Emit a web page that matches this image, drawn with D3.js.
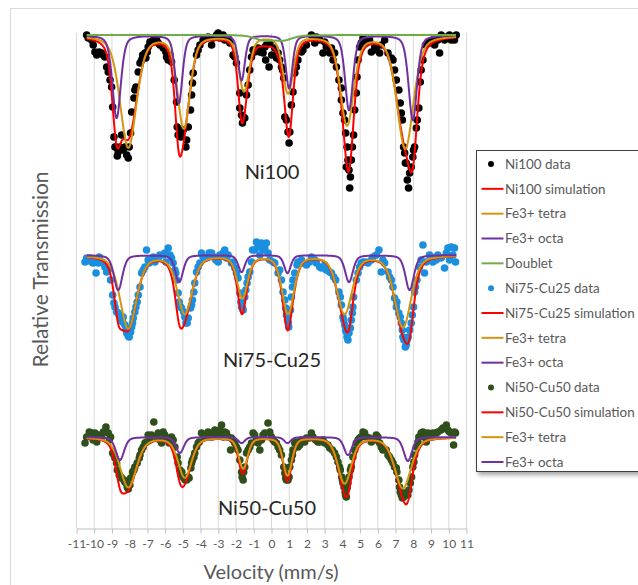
<!DOCTYPE html>
<html>
<head>
<meta charset="utf-8">
<script src="https://cdn.jsdelivr.net/npm/d3@7"></script>
<style>
  body { margin: 0; background: #fff; }
  svg { display: block; font-family: Lato, "Open Sans", sans-serif; }
</style>
</head>
<body>
<script>
const width = 638, height = 585;

// measured spectra: [velocity mm/s, relative transmission]
const ni100Data = [[-10.40,1.000],[-10.12,0.995],[-9.93,0.983],[-9.83,0.980],[-9.55,0.982],[-9.37,0.978],[-9.27,0.968],[-9.08,0.955],[-8.99,0.948],[-8.93,0.928],[-8.86,0.898],[-8.75,0.888],[-8.67,0.879],[-8.52,0.888],[-8.43,0.900],[-8.24,0.888],[-8.14,0.880],[-8.05,0.877],[-7.92,0.902],[-7.86,0.923],[-7.73,0.937],[-7.62,0.948],[-7.49,0.963],[-7.39,0.972],[-7.24,0.980],[-7.06,0.977],[-6.98,0.983],[-6.83,0.993],[-6.64,0.995],[-6.36,0.992],[-6.08,0.987],[-5.93,0.983],[-5.80,0.975],[-5.61,0.973],[-5.46,0.955],[-5.33,0.933],[-5.24,0.900],[-5.10,0.898],[-4.95,0.905],[-4.80,0.888],[-4.67,0.908],[-4.54,0.925],[-4.48,0.940],[-4.39,0.962],[-4.20,0.980],[-4.01,0.990],[-3.83,0.995],[-3.55,0.998],[-3.35,0.990],[-3.07,1.000],[-2.89,0.997],[-2.61,0.995],[-2.32,0.992],[-2.14,0.980],[-1.95,0.972],[-1.76,0.942],[-1.66,0.920],[-1.61,0.912],[-1.48,0.917],[-1.38,0.940],[-1.29,0.950],[-1.10,0.978],[-0.92,0.983],[-0.63,0.983],[-0.45,0.982],[-0.30,0.975],[-0.11,0.968],[0.04,0.980],[0.21,0.987],[0.40,0.982],[0.49,0.975],[0.65,0.965],[0.72,0.957],[0.78,0.918],[0.87,0.915],[0.96,0.903],[1.02,0.892],[1.15,0.930],[1.24,0.943],[1.34,0.962],[1.52,0.975],[1.72,0.983],[2.00,0.990],[2.28,1.000],[2.47,0.992],[2.75,0.995],[2.93,0.982],[3.12,0.988],[3.31,0.982],[3.50,0.975],[3.69,0.968],[3.83,0.955],[3.97,0.947],[4.06,0.922],[4.21,0.902],[4.29,0.888],[4.34,0.875],[4.40,0.865],[4.44,0.847],[4.53,0.875],[4.66,0.900],[4.72,0.925],[4.85,0.958],[5.00,0.988],[5.19,0.997],[5.38,0.992],[5.66,0.983],[5.85,0.988],[6.13,0.982],[6.41,0.995],[6.60,0.982],[6.79,0.977],[6.97,0.965],[7.07,0.955],[7.21,0.945],[7.29,0.932],[7.41,0.915],[7.48,0.888],[7.58,0.872],[7.69,0.855],[7.76,0.847],[7.91,0.868],[8.00,0.878],[8.10,0.888],[8.20,0.907],[8.34,0.927],[8.42,0.953],[8.57,0.975],[8.72,0.990],[8.94,0.992],[9.13,0.995],[9.51,0.982],[9.60,1.000],[9.89,0.998],[10.17,0.995],[10.45,1.000],
  [-10.31,0.997],[-10.03,0.990],[-9.69,0.983],[-9.46,0.980],[-9.18,0.963],[-8.80,0.888],[-8.62,0.883],[-8.34,0.885],[-8.00,0.888],[-7.68,0.945],[-7.30,0.975],[-7.11,0.982],[-6.93,0.988],[-6.45,0.995],[-6.27,0.990],[-5.89,0.978],[-5.70,0.980],[-5.29,0.908],[-5.04,0.903],[-4.76,0.895],[-4.43,0.952],[-4.11,0.985],[-3.73,0.997],[-3.26,0.997],[-2.98,1.002],[-2.70,1.000],[-2.42,0.997],[-2.04,0.978],[-1.76,0.927],[-1.57,0.918],[-1.20,0.965],[-1.01,0.985],[-0.73,0.987],[-0.26,0.990],[-0.35,0.988],[-0.06,0.992],[0.31,0.977],[0.59,0.968],[1.06,0.903],[1.43,0.968],[1.80,0.985],[2.56,0.998],[3.03,0.993],[3.41,0.987],[3.59,0.982],[3.97,0.935],[4.15,0.915],[4.25,0.868],[4.48,0.858],[4.59,0.888],[4.81,0.942],[4.91,0.975],[5.09,0.992],[5.56,0.995],[5.94,0.985],[6.22,0.990],[6.88,0.975],[7.35,0.922],[7.54,0.882],[7.63,0.872],[7.82,0.862],[8.04,0.885],[8.25,0.915],[8.47,0.965],[8.85,0.993],[9.23,0.990],[9.41,0.995],[9.79,0.995],[10.07,1.000],[10.35,0.995]];

const ni75Data = [[-10.49,0.993],[-10.21,0.997],[-10.03,0.992],[-9.87,0.982],[-9.69,0.998],[-9.55,0.993],[-9.37,0.988],[-9.18,0.985],[-9.05,0.975],[-8.93,0.960],[-8.86,0.952],[-8.71,0.943],[-8.56,0.940],[-8.48,0.935],[-8.34,0.938],[-8.24,0.930],[-8.14,0.922],[-8.05,0.919],[-7.92,0.923],[-7.86,0.928],[-7.77,0.937],[-7.62,0.948],[-7.49,0.960],[-7.39,0.968],[-7.30,0.982],[-7.11,0.988],[-7.02,1.005],[-6.87,0.992],[-6.64,0.998],[-6.36,0.997],[-6.08,1.000],[-5.93,0.993],[-5.80,1.007],[-5.70,1.000],[-5.52,0.992],[-5.42,0.985],[-5.33,0.975],[-5.24,0.962],[-5.18,0.953],[-5.05,0.947],[-4.92,0.943],[-4.80,0.932],[-4.67,0.937],[-4.54,0.947],[-4.43,0.955],[-4.30,0.972],[-4.20,0.983],[-4.01,0.992],[-3.92,1.002],[-3.64,0.997],[-3.35,1.002],[-3.11,0.995],[-2.89,1.000],[-2.61,1.005],[-2.42,1.000],[-2.23,0.992],[-2.04,0.987],[-1.86,0.977],[-1.76,0.962],[-1.66,0.948],[-1.57,0.945],[-1.48,0.958],[-1.35,0.972],[-1.20,0.983],[-1.04,1.005],[-0.82,1.013],[-0.63,1.000],[-0.45,1.005],[-0.26,1.012],[-0.07,0.995],[0.21,0.992],[0.40,0.982],[0.59,0.975],[0.68,0.963],[0.83,0.947],[0.93,0.935],[1.00,0.928],[1.10,0.945],[1.21,0.968],[1.34,0.982],[1.47,0.990],[1.72,0.995],[2.00,0.990],[2.28,0.998],[2.56,0.992],[2.84,0.987],[3.12,0.985],[3.41,0.982],[3.65,0.975],[3.83,0.963],[3.97,0.950],[4.06,0.938],[4.16,0.930],[4.25,0.923],[4.34,0.915],[4.48,0.927],[4.59,0.942],[4.66,0.958],[4.81,0.975],[5.00,0.988],[5.19,0.993],[5.47,0.992],[5.75,0.998],[6.09,1.005],[6.22,0.983],[6.41,0.992],[6.60,0.983],[6.79,0.975],[6.97,0.957],[7.10,0.953],[7.21,0.942],[7.35,0.932],[7.44,0.918],[7.58,0.908],[7.67,0.915],[7.82,0.925],[7.97,0.940],[8.10,0.963],[8.23,0.975],[8.38,0.988],[8.57,1.010],[8.66,0.982],[8.94,1.000],[9.13,0.993],[9.41,1.000],[9.79,0.987],[9.98,1.007],[10.17,1.008],[10.26,1.000],[10.41,0.993],
  [-10.40,0.997],[-10.12,0.993],[-9.93,0.995],[-9.74,0.992],[-9.46,0.992],[-9.27,0.983],[-8.80,0.948],[-8.62,0.942],[-8.37,0.933],[-8.18,0.925],[-8.00,0.918],[-7.81,0.932],[-7.68,0.943],[-7.55,0.953],[-7.21,0.985],[-6.93,0.995],[-6.55,0.993],[-6.27,1.000],[-5.99,1.002],[-5.61,0.997],[-5.37,0.982],[-5.10,0.948],[-4.86,0.938],[-4.73,0.932],[-4.48,0.950],[-4.35,0.963],[-4.11,0.988],[-3.83,0.998],[-3.49,1.002],[-3.23,0.998],[-2.98,0.993],[-2.70,1.002],[-2.51,0.997],[-2.14,0.993],[-1.95,0.982],[-1.70,0.953],[-1.61,0.947],[-1.42,0.965],[-1.29,0.978],[-1.10,0.993],[-0.92,1.005],[-0.73,1.008],[-0.54,1.012],[-0.35,1.007],[-0.17,1.002],[0.12,0.993],[0.49,0.985],[0.78,0.955],[0.87,0.940],[0.98,0.932],[1.15,0.958],[1.24,0.975],[1.52,0.993],[1.80,0.992],[2.18,0.993],[2.47,0.995],[2.75,0.988],[3.03,0.990],[3.31,0.983],[3.54,0.978],[3.91,0.958],[4.10,0.935],[4.21,0.925],[4.29,0.918],[4.40,0.922],[4.53,0.935],[4.62,0.948],[4.91,0.982],[5.09,0.992],[5.34,0.993],[5.66,0.995],[5.94,1.000],[6.31,0.995],[6.69,0.978],[6.88,0.968],[7.07,0.948],[7.29,0.938],[7.41,0.925],[7.50,0.915],[7.63,0.910],[7.74,0.918],[7.91,0.932],[8.04,0.948],[8.15,0.968],[8.47,0.995],[8.76,0.993],[9.04,0.998],[9.32,0.995],[9.60,0.997],[9.89,1.002],[10.07,0.995],[10.35,1.007]];

const ni50Data = [[-10.49,0.994],[-10.25,1.005],[-10.12,1.000],[-9.93,1.004],[-9.83,0.995],[-9.55,1.000],[-9.31,1.010],[-9.18,1.004],[-9.05,1.000],[-8.93,0.984],[-8.80,0.979],[-8.67,0.967],[-8.56,0.962],[-8.43,0.959],[-8.30,0.957],[-8.18,0.954],[-8.05,0.948],[-7.92,0.959],[-7.81,0.965],[-7.68,0.970],[-7.55,0.974],[-7.43,0.979],[-7.30,0.987],[-7.11,0.994],[-6.93,1.002],[-6.83,0.997],[-6.61,1.015],[-6.45,1.000],[-6.27,0.997],[-6.08,1.005],[-5.89,0.999],[-5.74,0.994],[-5.61,1.000],[-5.42,0.990],[-5.29,0.980],[-5.14,0.967],[-5.03,0.965],[-4.92,0.959],[-4.76,0.957],[-4.62,0.959],[-4.52,0.969],[-4.43,0.977],[-4.30,0.984],[-4.20,0.990],[-4.05,0.995],[-3.92,1.004],[-3.73,1.000],[-3.55,1.005],[-3.35,1.000],[-3.17,1.007],[-2.98,1.004],[-2.79,1.012],[-2.61,1.005],[-2.42,1.000],[-2.28,0.987],[-2.14,0.997],[-1.95,0.990],[-1.76,0.977],[-1.66,0.965],[-1.57,0.957],[-1.48,0.970],[-1.38,0.984],[-1.20,0.990],[-1.01,1.004],[-0.82,0.997],[-0.63,0.987],[-0.45,1.002],[-0.17,1.014],[0.03,1.000],[0.21,0.995],[0.40,0.990],[0.59,0.982],[0.72,0.970],[0.83,0.959],[0.96,0.957],[1.06,0.970],[1.21,0.982],[1.34,0.994],[1.52,0.990],[1.72,0.997],[2.00,0.999],[2.28,1.004],[2.52,0.997],[2.75,0.995],[3.03,0.994],[3.31,0.989],[3.59,0.984],[3.78,0.975],[3.91,0.967],[4.03,0.957],[4.12,0.950],[4.21,0.942],[4.29,0.949],[4.40,0.960],[4.53,0.970],[4.62,0.980],[4.81,0.994],[5.00,0.999],[5.19,1.005],[5.38,1.000],[5.66,0.995],[5.94,1.002],[6.13,0.994],[6.31,0.987],[6.60,0.982],[6.79,0.977],[6.97,0.970],[7.10,0.965],[7.21,0.957],[7.29,0.945],[7.41,0.939],[7.54,0.944],[7.72,0.942],[7.86,0.954],[8.00,0.970],[8.10,0.982],[8.20,0.990],[8.34,1.000],[8.57,1.005],[8.76,0.995],[9.04,1.000],[9.32,1.004],[9.60,1.007],[9.89,1.012],[10.07,1.005],[10.30,0.992],[10.41,1.004],
  [-10.40,1.000],[-10.12,1.004],[-10.03,0.997],[-9.74,1.002],[-9.46,1.005],[-9.12,0.997],[-8.86,0.982],[-8.71,0.974],[-8.48,0.960],[-8.24,0.955],[-8.11,0.950],[-7.96,0.952],[-7.73,0.967],[-7.39,0.982],[-7.21,0.990],[-7.02,0.995],[-6.74,1.002],[-6.36,1.004],[-6.17,0.994],[-5.99,1.002],[-5.52,0.997],[-5.24,0.974],[-5.08,0.962],[-4.84,0.957],[-4.67,0.960],[-4.48,0.974],[-4.35,0.980],[-4.11,0.994],[-3.83,1.002],[-3.45,1.004],[-3.07,1.002],[-2.89,1.007],[-2.70,1.000],[-2.51,1.004],[-2.23,0.999],[-2.04,0.994],[-1.86,0.987],[-1.63,0.960],[-1.54,0.965],[-1.29,0.987],[-1.10,0.994],[-0.92,1.002],[-0.73,0.994],[-0.54,0.997],[-0.35,1.004],[-0.07,1.005],[0.12,0.997],[0.31,0.994],[0.49,0.987],[0.78,0.964],[0.87,0.957],[1.02,0.960],[1.15,0.977],[1.24,0.987],[1.43,0.995],[1.62,0.992],[1.90,0.995],[2.18,0.999],[2.37,1.000],[2.65,0.995],[2.93,0.997],[3.21,0.992],[3.46,0.987],[3.69,0.980],[3.87,0.970],[3.99,0.960],[4.06,0.954],[4.18,0.945],[4.25,0.940],[4.34,0.954],[4.48,0.967],[4.72,0.987],[4.91,0.997],[5.09,1.000],[5.28,1.004],[5.56,0.999],[5.85,0.997],[6.03,1.000],[6.22,0.990],[6.50,0.987],[6.69,0.980],[6.88,0.974],[7.07,0.969],[7.25,0.950],[7.35,0.942],[7.48,0.940],[7.63,0.944],[7.78,0.947],[7.93,0.960],[8.06,0.975],[8.29,0.995],[8.47,1.004],[8.66,1.000],[8.85,1.004],[9.13,1.004],[9.41,1.005],[9.70,1.009],[9.98,1.007],[10.17,1.004],[10.35,1.005]];

// fitted sextet lines: [centre mm/s, depth, half width mm/s]
const ni100Tetra = [[-8.05,0.112,0.55],[-4.92,0.092,0.42],[-1.52,0.055,0.35],[0.96,0.057,0.35],[4.29,0.089,0.45],[7.57,0.113,0.55]];
const ni100Octa = [[-8.71,0.083,0.28],[-5.20,0.068,0.24],[-1.66,0.045,0.22],[1.02,0.053,0.22],[4.40,0.075,0.26],[8.00,0.085,0.28]];
const ni100Doublet = [[-0.40,0.005,0.6],[0.70,0.005,0.6]];
const ni75Tetra = [[-8.05,0.073,0.55],[-4.86,0.058,0.5],[-1.61,0.042,0.35],[0.96,0.058,0.4],[4.15,0.058,0.5],[7.44,0.072,0.55]];
const ni75Octa = [[-8.62,0.035,0.28],[-5.18,0.027,0.26],[-1.66,0.017,0.22],[0.93,0.018,0.22],[4.40,0.027,0.26],[7.82,0.035,0.28]];
const ni50Tetra = [[-8.05,0.050,0.55],[-4.86,0.040,0.45],[-1.57,0.031,0.3],[0.93,0.038,0.3],[4.15,0.046,0.45],[7.44,0.051,0.55]];
const ni50Octa = [[-8.52,0.023,0.28],[-5.14,0.016,0.26],[-1.66,0.006,0.22],[0.93,0.006,0.22],[4.34,0.018,0.26],[7.72,0.024,0.28]];

const offsets = [0, -0.220, -0.402];   // vertical shift of each spectrum
const saturation = [0.45, 1.5, 1.5];   // thickness effect in each total simulation
const lorentzShare = 0.4;
const velocityRange = [-10.4, 10.45];
const xTicks = d3.range(-11, 12);

const sampleNames = ['Ni100', 'Ni75-Cu25', 'Ni50-Cu50'];
const legendLabels = ['Ni100 data', 'Ni100 simulation', 'Fe3+ tetra', 'Fe3+ octa', 'Doublet',
  'Ni75-Cu25 data', 'Ni75-Cu25 simulation', 'Fe3+ tetra', 'Fe3+ octa',
  'Ni50-Cu50 data', 'Ni50-Cu50 simulation', 'Fe3+ tetra', 'Fe3+ octa'];

const colors = { red: '#ff0000', tetra: '#d4960f', octa: '#7030a0', doublet: '#70ad47' };
const dotColors = ['#000000', '#1a8fe0', '#2f4f1c'];
const legendKinds = ['dot0', 'red', 'tetra', 'octa', 'doublet', 'dot1', 'red', 'tetra', 'octa', 'dot2', 'red', 'tetra', 'octa'];

function absorption(lines, v) {
  let s = 0;
  lines.forEach(([c, d, w]) => {
    const u = ((v - c) / w) ** 2;
    s += d * (lorentzShare / (1 + u) + (1 - lorentzShare) * Math.exp(-Math.LN2 * u));
  });
  return s;
}

const grid = d3.range(velocityRange[0], velocityRange[1] + 0.001, 0.02);

function component(lines, offset) {
  return grid.map(v => [v, 1 - absorption(lines, v) + offset]);
}

function total(parts, offset, sat) {
  return grid.map(v => {
    const s = d3.sum(parts, p => absorption(p, v));
    return [v, 1 - sat * (1 - Math.exp(-s / sat)) + offset];
  });
}

const panels = [
  { data: ni100Data, tetra: ni100Tetra, octa: ni100Octa, doublet: ni100Doublet },
  { data: ni75Data, tetra: ni75Tetra, octa: ni75Octa },
  { data: ni50Data, tetra: ni50Tetra, octa: ni50Octa }
];

const x = d3.scaleLinear().domain([-11, 11]).range([76, 466]);
const y = d3.scaleLinear().domain([0.507, 1.002]).range([528, 33]);

const svg = d3.select('body').append('svg')
  .attr('width', width).attr('height', height);

svg.append('rect').attr('width', width).attr('height', height).attr('fill', '#fff');
svg.append('rect')
  .attr('x', 10.5).attr('y', 8.5).attr('width', 700).attr('height', 700)
  .attr('fill', 'none').attr('stroke', '#d9d9d9');

// vertical gridlines
svg.append('g')
  .attr('stroke', '#d9d9d9')
  .selectAll('line')
  .data(xTicks)
  .join('line')
  .attr('x1', d => x(d) + 0.5).attr('x2', d => x(d) + 0.5)
  .attr('y1', y.range()[1]).attr('y2', y.range()[0]);

const xAxis = svg.append('g')
  .attr('transform', `translate(0.5,${y.range()[0] + 0.5})`)
  .call(d3.axisBottom(x).tickValues(xTicks).tickFormat(d => String(d))
    .tickSize(5).tickPadding(6).tickSizeOuter(0));
xAxis.select('.domain').attr('stroke', '#bfbfbf');
xAxis.selectAll('.tick line').attr('stroke', '#bfbfbf');
xAxis.selectAll('.tick text')
  .attr('fill', '#595959').attr('font-size', 12).attr('font-family', 'Lato, sans-serif');

svg.append('text')
  .attr('x', (x.range()[0] + x.range()[1]) / 2).attr('y', 579)
  .attr('text-anchor', 'middle').attr('font-size', 20).attr('fill', '#595959')
  .text('Velocity (mm/s)');

svg.append('text')
  .attr('transform', `translate(48,${(y.range()[0] + y.range()[1]) / 2 - 11}) rotate(-90)`)
  .attr('text-anchor', 'middle').attr('font-size', 21).attr('fill', '#595959')
  .text('Relative Transmission');

const line = d3.line().x(d => x(d[0])).y(d => y(d[1]));

panels.forEach((p, i) => {
  const off = offsets[i];
  svg.append('g')
    .attr('fill', dotColors[i])
    .selectAll('circle')
    .data(p.data)
    .join('circle')
    .attr('cx', d => x(d[0]))
    .attr('cy', d => y(d[1] + off))
    .attr('r', 3.8);

  const parts = p.doublet ? [p.tetra, p.octa, p.doublet] : [p.tetra, p.octa];
  const curves = [
    [total(parts, off, saturation[i]), colors.red],
    [component(p.tetra, off), colors.tetra],
    [component(p.octa, off), colors.octa]
  ];
  if (p.doublet) curves.push([component(p.doublet, off), colors.doublet]);
  curves.forEach(([pts, c]) => {
    svg.append('path')
      .attr('d', line(pts))
      .attr('fill', 'none').attr('stroke', c).attr('stroke-width', 2)
      .attr('stroke-linejoin', 'round');
  });
});

// sample names
const labelPos = [[272, 0.856], [272, 0.668], [267, 0.520]];
svg.append('g')
  .selectAll('text')
  .data(sampleNames)
  .join('text')
  .attr('x', (d, i) => labelPos[i][0])
  .attr('y', (d, i) => y(labelPos[i][1]))
  .attr('text-anchor', 'middle').attr('font-size', 20).attr('fill', '#262626')
  .text(d => d);

// legend
const defs = svg.append('defs');
const f = defs.append('filter').attr('id', 'shadow').attr('x', '-10%').attr('y', '-10%').attr('width', '130%').attr('height', '130%');
f.append('feDropShadow').attr('dx', 2).attr('dy', 3).attr('stdDeviation', 2).attr('flood-color', '#000').attr('flood-opacity', 0.35);

const legend = svg.append('g').attr('transform', 'translate(476.5,150.5)');
legend.append('rect')
  .attr('width', 200).attr('height', 321)
  .attr('fill', '#fff').attr('stroke', '#404040').attr('stroke-width', 1)
  .attr('filter', 'url(#shadow)');

const rowY = d3.scalePoint().domain(d3.range(legendLabels.length)).range([13.5, 311.5]);
const rows = legend.selectAll('g.row')
  .data(legendLabels)
  .join('g')
  .attr('class', 'row')
  .attr('transform', (d, i) => `translate(0,${rowY(i)})`);

rows.each(function(d, i) {
  const g = d3.select(this);
  const k = legendKinds[i];
  if (k.startsWith('dot')) {
    g.append('circle').attr('cx', 14.5).attr('cy', 0).attr('r', 3).attr('fill', dotColors[+k[3]]);
  } else {
    g.append('line').attr('x1', 5).attr('x2', 27).attr('y1', 0).attr('y2', 0)
      .attr('stroke', colors[k]).attr('stroke-width', 2);
  }
  g.append('text').attr('x', 28.5).attr('y', 0).attr('dy', '0.35em')
    .attr('font-size', 13.4).attr('fill', '#595959').text(d);
});
</script>
</body>
</html>
